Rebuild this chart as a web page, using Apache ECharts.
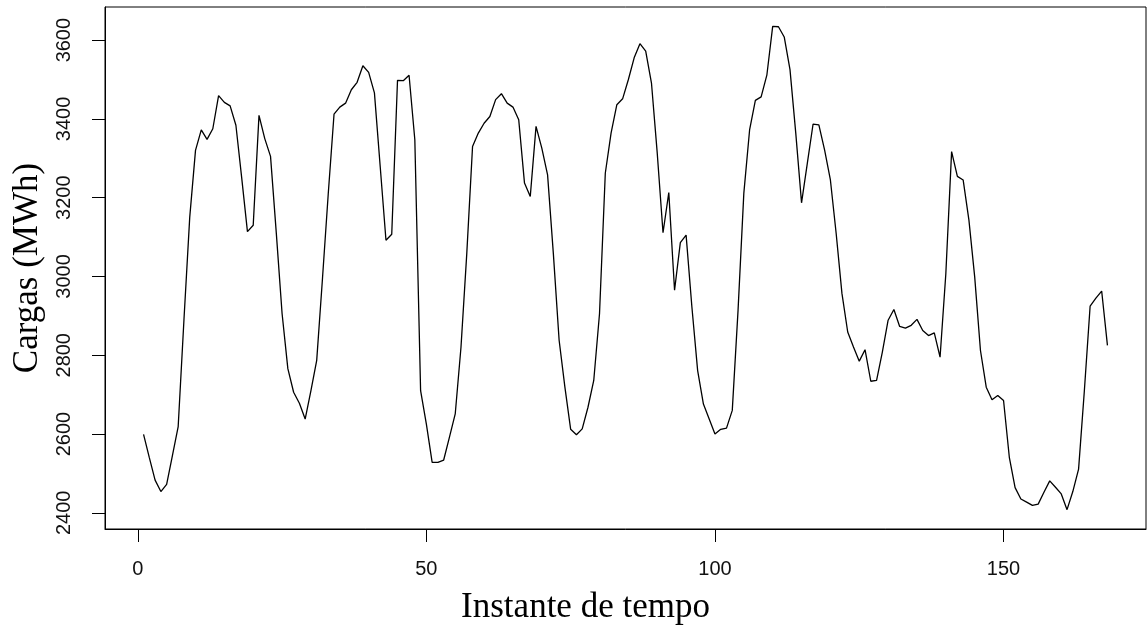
<!DOCTYPE html>
<html>
<head>
<meta charset="utf-8">
<script src="https://cdn.jsdelivr.net/npm/echarts@6/dist/echarts.min.js"></script>
<style>
html,body{margin:0;padding:0;background:#fff;}
#chart{width:1147px;height:631px;}
</style>
</head>
<body>
<div id="chart"></div>
<script>
// Hourly load values (MWh), instants 1..168
const cargas = [
  2599,2540,2483,2454,2472,2545,2619,2890,3150,3320,
  3372,3348,3375,3459,3442,3433,3384,3251,3114,3130,
  3409,3350,3305,3110,2906,2766,2706,2678,2638,2710,
  2787,2995,3210,3412,3430,3440,3474,3493,3535,3518,
  3466,3279,3092,3107,3498,3497,3511,3347,2710,2625,
  2528,2528,2534,2592,2651,2821,3058,3330,3364,3389,
  3406,3449,3464,3440,3430,3398,3237,3203,3381,3326,
  3258,3058,2838,2719,2612,2598,2613,2668,2736,2906,
  3262,3364,3436,3451,3500,3555,3591,3572,3491,3313,
  3111,3213,2965,3086,3105,2923,2761,2676,2638,2600,
  2612,2615,2660,2914,3211,3372,3447,3456,3512,3635,
  3634,3608,3525,3364,3187,3287,3387,3385,3321,3245,
  3109,2957,2859,2821,2785,2814,2734,2736,2808,2889,
  2916,2873,2869,2876,2891,2863,2850,2857,2795,3007,
  3317,3254,3245,3143,2999,2812,2719,2687,2698,2685,
  2541,2464,2435,2427,2419,2422,2452,2481,2465,2448,
  2408,2454,2511,2710,2925,2945,2963,2825
];
const xTicks = [0, 50, 100, 150];
const yTicks = [2400, 2600, 2800, 3000, 3200, 3400, 3600];
const xTitle = 'Instante de tempo';
const yTitle = 'Cargas (MWh)';

const seriesData = cargas.map((v, i) => [i + 1, v]);

const chart = echarts.init(document.getElementById('chart'), null, {renderer: 'canvas'});
chart.setOption({
  animation: false,
  backgroundColor: '#ffffff',
  grid: {
    left: 105, right: 1, top: 7, bottom: 102,
    show: true, borderColor: '#000', borderWidth: 1, backgroundColor: 'transparent'
  },
  xAxis: {
    type: 'value',
    min: -5.68, max: 174.68,
    name: xTitle,
    nameLocation: 'middle',
    nameGap: 61,
    nameTextStyle: {fontFamily: 'Liberation Serif', fontSize: 35, color: '#000', padding: [0, 80, 0, 0]},
    axisLine: {show: true, onZero: false, lineStyle: {color: '#000', width: 1}},
    axisTick: {show: true, length: 13, customValues: xTicks, lineStyle: {color: '#000'}},
    axisLabel: {customValues: xTicks, margin: 30, fontFamily: 'Liberation Sans', fontSize: 20, color: '#111',
      formatter: v => String(v)},
    splitLine: {show: false}
  },
  yAxis: {
    type: 'value',
    min: 2358.9, max: 3684.1,
    name: yTitle,
    nameLocation: 'middle',
    nameGap: 60,
    nameRotate: 90,
    nameTextStyle: {fontFamily: 'Liberation Serif', fontSize: 35, color: '#000'},
    axisLine: {show: true, onZero: false, lineStyle: {color: '#000', width: 1}},
    axisTick: {show: true, length: 13, customValues: yTicks, lineStyle: {color: '#000'}},
    axisLabel: {customValues: yTicks, rotate: 90, margin: 31, fontFamily: 'Liberation Sans', fontSize: 20, color: '#111',
      formatter: v => String(v)},
    splitLine: {show: false}
  },
  series: [{
    type: 'line',
    data: seriesData,
    showSymbol: false,
    symbol: 'none',
    lineStyle: {color: '#000', width: 1.3},
    z: 3
  }]
});
</script>
</body>
</html>
